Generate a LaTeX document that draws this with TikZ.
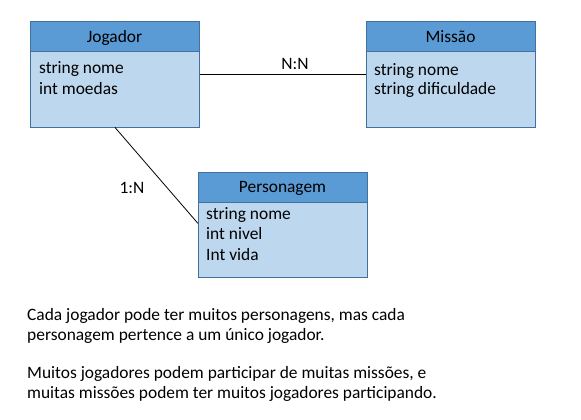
\documentclass[tikz,border=0pt]{standalone}
\usepackage{fontspec}
\setmainfont{Carlito}
\definecolor{hdrfill}{HTML}{5B9BD5}
\definecolor{bodyfill}{HTML}{BDD7EE}
\definecolor{edge}{HTML}{41719C}
\begin{document}
\begin{tikzpicture}[x=1pt,y=-1pt,
  font=\fontsize{17.4}{20}\selectfont,
  hdr/.style={draw=edge, fill=hdrfill, line width=0.9pt, minimum width=169pt, minimum height=30pt, anchor=north west, inner sep=0pt},
  bdy/.style={draw=edge, fill=bodyfill, line width=0.9pt, minimum width=169pt, minimum height=75pt, anchor=north west, inner sep=0pt},
  txt/.style={anchor=base west, inner sep=0pt},
  ctxt/.style={anchor=base, inner sep=0pt},
  conn/.style={draw=black, line width=0.8pt}]
\useasboundingbox (0,0) rectangle (581,420);
% Jogador
\node[bdy] (jbody) at (30,51.5) {};
\node[hdr] (jhdr) at (30,21.5) {};
\node[ctxt] (jt) at (114.5,43) {Jogador};
\node[txt] (j1) at (39,74) {string nome};
\node[txt] (j2) at (39,94) {int moedas};
% Missao
\node[bdy] (mbody) at (366,51.5) {};
\node[hdr] (mhdr) at (366,21.5) {};
\node[ctxt] (mt) at (450.5,43) {Missão};
\node[txt] (m1) at (374,75) {string nome};
\node[txt] (m2) at (374,95) {string dificuldade};
% Personagem
\node[bdy] (pbody) at (198,201.5) {};
\node[hdr] (phdr) at (198,171.5) {};
\node[ctxt] (pt) at (282.5,192.5) {Personagem};
\node[txt] (p1) at (206,219) {string nome};
\node[txt] (p2) at (206,239) {int nivel};
\node[txt] (p3) at (206,260) {Int vida};
% connectors
\coordinate (nnA) at ([yshift=15pt]jbody.east);
\coordinate (nnB) at (mbody.west |- nnA);
\draw[conn] (nnA) -- (nnB);
\node[ctxt] (nnl) at (295,70) {N:N};
\coordinate (onB) at ([yshift=16pt]pbody.west);
\draw[conn] (jbody.south) -- (onB);
\node[ctxt] (onl) at (132,193) {1:N};
% text
\node[txt] (t1) at (27,320) {Cada jogador pode ter muitos personagens, mas cada};
\node[txt] (t2) at (27,340) {personagem pertence a um único jogador.};
\node[txt] (t3) at (27,378) {Muitos jogadores podem participar de muitas missões, e};
\node[txt] (t4) at (27,398) {muitas missões podem ter muitos jogadores participando.};
\end{tikzpicture}
\end{document}
